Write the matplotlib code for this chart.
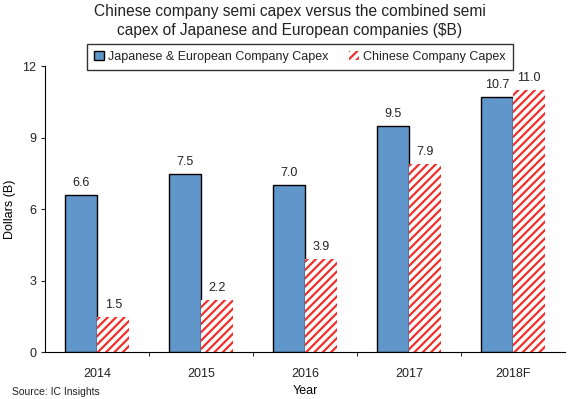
import numpy as np
import matplotlib.pyplot as plt

plt.rcParams['font.family'] = ['Liberation Sans', 'DejaVu Sans']
plt.rcParams['hatch.linewidth'] = 1.6
plt.rcParams['text.color'] = '#222222'

years = ['2014', '2015', '2016', '2017', '2018F']
japan_europe = [6.6, 7.5, 7.0, 9.5, 10.7]
china = [1.5, 2.2, 3.9, 7.9, 11.0]

fig = plt.figure(figsize=(5.8, 3.99), dpi=100)
ax = fig.add_axes([0.078, 0.117, 0.896, 0.717])

x = np.arange(len(years))
w = 0.31
ax.bar(x - w / 2, japan_europe, w, color='#6196CB', edgecolor='black',
       linewidth=1.0, label='Japanese & European Company Capex')
ax.bar(x + w / 2, china, w, color='white', edgecolor='#F0302C', hatch='////',
       linewidth=0, label='Chinese Company Capex')

for xi, v in zip(x - w / 2, japan_europe):
    ax.text(xi, v + 0.25, '%.1f' % v, ha='center', va='bottom', fontsize=9)
for xi, v in zip(x + w / 2, china):
    ax.text(xi, v + 0.25, '%.1f' % v, ha='center', va='bottom', fontsize=9)

ax.set_xlim(-0.5, 4.5)
ax.set_ylim(0, 12)
ax.set_yticks([0, 3, 6, 9, 12])
ax.set_xticks(x)
ax.set_xticklabels(years)
ax.set_xticks(np.arange(0.5, 4.5, 1.0), minor=True)
ax.tick_params(axis='both', labelsize=9, length=3, colors='#222222')
ax.tick_params(axis='x', which='major', length=0, pad=11)
ax.tick_params(axis='x', which='minor', length=3)
ax.spines['top'].set_visible(False)
ax.spines['right'].set_visible(False)
ax.set_ylabel('Dollars (B)', fontsize=9)
ax.yaxis.set_label_coords(-0.057, 0.5)
ax.set_xlabel('Year', fontsize=9, va='center')
ax.xaxis.set_label_coords(0.5, -0.135)

fig.suptitle('Chinese company semi capex versus the combined semi\ncapex of Japanese and European companies ($B)',
             fontsize=11.2, y=0.99, linespacing=1.3)

leg = ax.legend(loc='upper center', bbox_to_anchor=(0.49, 1.1), ncol=2, fontsize=9,
                frameon=True, fancybox=False, edgecolor='black', handlelength=0.8,
                handleheight=0.8, handletextpad=0.3, columnspacing=1.7, borderpad=0.55)
leg.get_frame().set_linewidth(1.0)

fig.text(0.02, 0.017, 'Source: IC Insights', fontsize=7.5, va='center')

fig.savefig('out.png', dpi=100)
